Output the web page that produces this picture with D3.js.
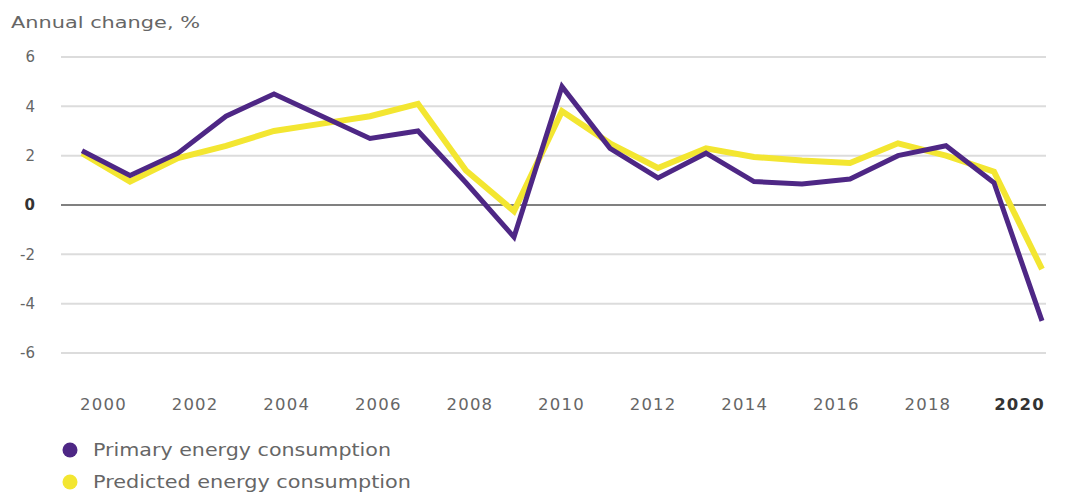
<!DOCTYPE html>
<html>
<head>
	<meta charset="UTF-8" />
	<title>Annual change</title>
	<script src="https://d3js.org/d3.v7.min.js"></script>
	<style>
		body { margin: 0; background: #fff; }
		text { font-family: "DejaVu Sans", sans-serif; }
	</style>
	<script type="text/javascript">

		var years = [2000, 2001, 2002, 2003, 2004, 2005, 2006, 2007, 2008, 2009, 2010,
		             2011, 2012, 2013, 2014, 2015, 2016, 2017, 2018, 2019, 2020];
		var primary = [2.2, 1.2, 2.1, 3.6, 4.5, 3.6, 2.7, 3.0, 0.9, -1.3, 4.8,
		               2.3, 1.1, 2.1, 0.95, 0.85, 1.05, 2.0, 2.4, 0.9, -4.7];
		var predicted = [2.1, 0.95, 1.9, 2.4, 3.0, 3.3, 3.6, 4.1, 1.4, -0.25, 3.8,
		                 2.5, 1.5, 2.3, 1.95, 1.8, 1.7, 2.5, 2.0, 1.35, -2.6];
		var yTicks = [6, 4, 2, 0, -2, -4, -6];
		var xTicks = [2000, 2002, 2004, 2006, 2008, 2010, 2012, 2014, 2016, 2018, 2020];
		var legendLabels = ["Primary energy consumption", "Predicted energy consumption"];
		var yTitle = "Annual change, %";

		var W = 1066, H = 500;
		var purple = "#4e2785", yellow = "#f3e631";

		function onLoad() {
			var svg = d3.select("body").append("svg")
				.attr("width", W).attr("height", H)
				.attr("viewBox", "0 0 " + W + " " + H);

			var x = d3.scaleLinear().domain([2000, 2020]).range([82, 1042]);
			// tick labels sit a bit right of the points in the original
			var xLab = d3.scaleLinear().domain([2000, 2020]).range([103, 1019]);
			var y = d3.scaleLinear().domain([-6, 6]).range([353, 57]);

			svg.append("text")
				.attr("x", 11).attr("y", 28)
				.attr("font-size", 15).attr("fill", "#666")
				.attr("textLength", 189).attr("lengthAdjust", "spacingAndGlyphs")
				.text(yTitle);

			// grid
			svg.append("g").selectAll("line").data(yTicks).enter().append("line")
				.attr("x1", 61).attr("x2", 1046)
				.attr("y1", function(d) { return y(d); })
				.attr("y2", function(d) { return y(d); })
				.attr("stroke", function(d) { return d == 0 ? "#808080" : "#dcdcdc"; })
				.attr("stroke-width", 2);

			var yAxis = d3.axisLeft(y).tickValues(yTicks).tickSize(0).tickPadding(0)
				.tickFormat(function(d) { return String(d); });
			var ga = svg.append("g").attr("transform", "translate(35,0)").call(yAxis);
			ga.select(".domain").remove();
			ga.selectAll("text")
				.attr("font-size", 15)
				.attr("font-family", "DejaVu Sans")
				.attr("fill", function(d) { return d == 0 ? "#333" : "#666"; })
				.attr("font-weight", function(d) { return d == 0 ? "bold" : "normal"; });

			var xAxis = d3.axisBottom(xLab).tickValues(xTicks).tickSize(0).tickPadding(0)
				.tickFormat(d3.format("d"));
			var gx = svg.append("g").attr("transform", "translate(0,398)").call(xAxis);
			gx.select(".domain").remove();
			gx.selectAll("text")
				.attr("font-size", 16.5)
				.attr("font-family", "DejaVu Sans")
				.attr("letter-spacing", 1.2)
				.attr("fill", function(d) { return d == 2020 ? "#333" : "#666"; })
				.attr("font-weight", function(d) { return d == 2020 ? "bold" : "normal"; });

			var line = d3.line()
				.x(function(d, i) { return x(years[i]); })
				.y(function(d) { return y(d); });

			svg.append("path").datum(predicted)
				.attr("d", line)
				.attr("fill", "none").attr("stroke", yellow)
				.attr("stroke-width", 6).attr("stroke-linejoin", "miter");

			svg.append("path").datum(primary)
				.attr("d", line)
				.attr("fill", "none").attr("stroke", purple)
				.attr("stroke-width", 5).attr("stroke-linejoin", "miter");

			// legend
			var lg = svg.append("g").selectAll("g").data(legendLabels).enter().append("g")
				.attr("transform", function(d, i) { return "translate(70," + (450 + i * 32) + ")"; });
			lg.append("circle").attr("r", 7.5)
				.attr("fill", function(d, i) { return i == 0 ? purple : yellow; });
			lg.append("text")
				.attr("x", 23).attr("y", 6)
				.attr("font-size", 17.5).attr("fill", "#666")
				.attr("textLength", function(d, i) { return i == 0 ? 298 : 318; })
				.attr("lengthAdjust", "spacingAndGlyphs")
				.text(function(d) { return d; });
		}
	</script>
</head>
<body onload="onLoad()">
</body>
</html>
